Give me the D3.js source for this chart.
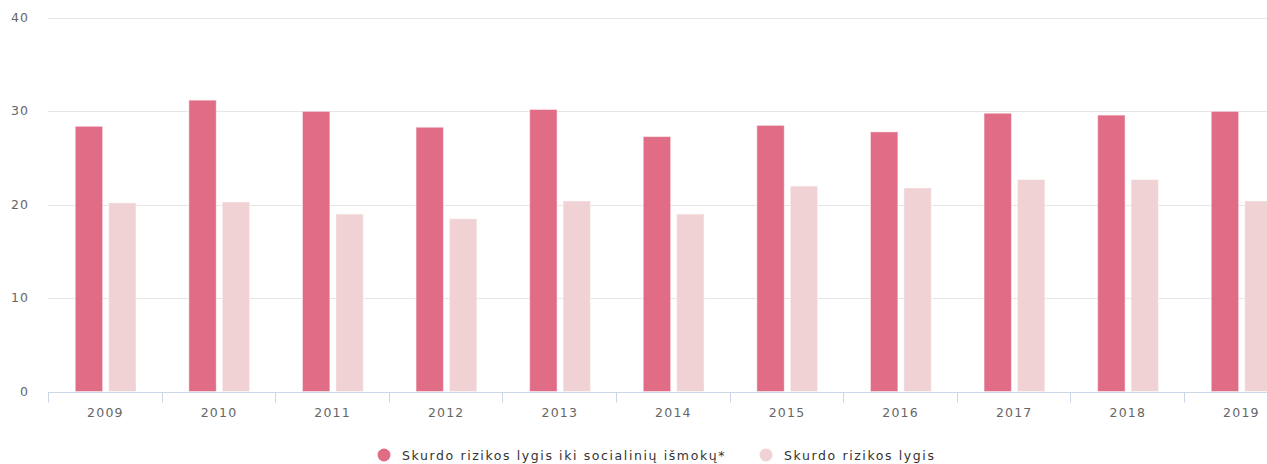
<!DOCTYPE html>
<html>
<head>
<meta charset="utf-8">
<script src="https://cdn.jsdelivr.net/npm/d3@7"></script>
<style>
  html, body { margin: 0; padding: 0; background: #fff; overflow: hidden; }
  svg { display: block; }
</style>
</head>
<body>
<div id="chart"></div>
<script>
const years = ['2009', '2010', '2011', '2012', '2013', '2014', '2015', '2016', '2017', '2018', '2019'];
const beforeTransfers = [28.4, 31.2, 30.0, 28.3, 30.2, 27.3, 28.5, 27.8, 29.8, 29.6, 30.0];
const povertyRate = [20.2, 20.3, 19.0, 18.5, 20.4, 19.0, 22.0, 21.8, 22.7, 22.7, 20.4];
const seriesNames = ['Skurdo rizikos lygis iki socialinių išmokų*', 'Skurdo rizikos lygis'];
const seriesColors = ['#e06d85', '#f0d2d4'];
const yTicks = [0, 10, 20, 30, 40];

const W = 1267, H = 464;
const margin = { top: 18, left: 48, bottom: 72 };
const catWidth = 113.6;

const svg = d3.select('#chart').append('svg')
  .attr('width', W).attr('height', H);

const x0 = d3.scaleBand().domain(years)
  .range([margin.left, margin.left + catWidth * years.length]);
const bw = x0.bandwidth();
const x1 = d3.scaleBand().domain(d3.range(seriesNames.length))
  .range([bw * 0.24, bw * 0.775]).paddingInner(0.18);
const y = d3.scaleLinear().domain([0, 40]).range([H - margin.bottom - 0.5, margin.top]);

const font = 'DejaVu Sans, sans-serif';

// gridlines
svg.append('g').selectAll('line').data(yTicks.filter(d => d > 0)).join('line')
  .attr('x1', margin.left).attr('x2', W)
  .attr('y1', d => Math.round(y(d)) + 0.5).attr('y2', d => Math.round(y(d)) + 0.5)
  .attr('stroke', '#e6e6e6').attr('stroke-width', 1);

// y labels
svg.append('g').selectAll('text').data(yTicks).join('text')
  .attr('x', 29).attr('y', d => y(d) + 4)
  .attr('text-anchor', 'end')
  .attr('fill', '#666').attr('font-size', '12.5px').attr('letter-spacing', '1.1px')
  .attr('font-family', font)
  .text(d => d);

// bars
const rows = years.map((yr, i) => ({ year: yr, values: [beforeTransfers[i], povertyRate[i]] }));
const groups = svg.append('g').selectAll('g').data(rows).join('g')
  .attr('transform', d => `translate(${x0(d.year)},0)`);
groups.selectAll('rect').data(d => d.values.map((v, s) => ({ v, s }))).join('rect')
  .attr('x', d => x1(d.s))
  .attr('width', x1.bandwidth())
  .attr('y', d => y(d.v))
  .attr('height', d => y(0) - y(d.v))
  .attr('fill', d => seriesColors[d.s])
  .attr('stroke', '#fff').attr('stroke-opacity', 0.45).attr('stroke-width', 1);

// x axis
const axisY = Math.round(y(0)) + 0.5;
const xAxis = svg.append('g');
xAxis.append('line')
  .attr('x1', margin.left).attr('x2', W)
  .attr('y1', axisY).attr('y2', axisY)
  .attr('stroke', '#ccd6eb');
xAxis.selectAll('.tick').data(years).join('line')
  .attr('class', 'tick')
  .attr('x1', d => Math.round(x0(d)) + 0.5).attr('x2', d => Math.round(x0(d)) + 0.5)
  .attr('y1', axisY).attr('y2', axisY + 10)
  .attr('stroke', '#ccd6eb');
xAxis.selectAll('text').data(years).join('text')
  .attr('x', d => x0(d) + bw / 2 + 0.6).attr('y', axisY + 24)
  .attr('text-anchor', 'middle')
  .attr('fill', '#666').attr('font-size', '12.5px').attr('letter-spacing', '1.2px')
  .attr('font-family', font)
  .text(d => d);

// legend
const legendX = [384, 766];
const legend = svg.append('g').selectAll('g').data(seriesNames).join('g')
  .attr('transform', (d, i) => `translate(${legendX[i]},455)`);
legend.append('circle').attr('r', 6.5).attr('fill', (d, i) => seriesColors[i]);
legend.append('text')
  .attr('x', 18).attr('y', 5)
  .attr('fill', '#333').attr('font-size', '12.5px').attr('letter-spacing', '1.6px')
  .attr('font-family', font)
  .text(d => d);
</script>
</body>
</html>
